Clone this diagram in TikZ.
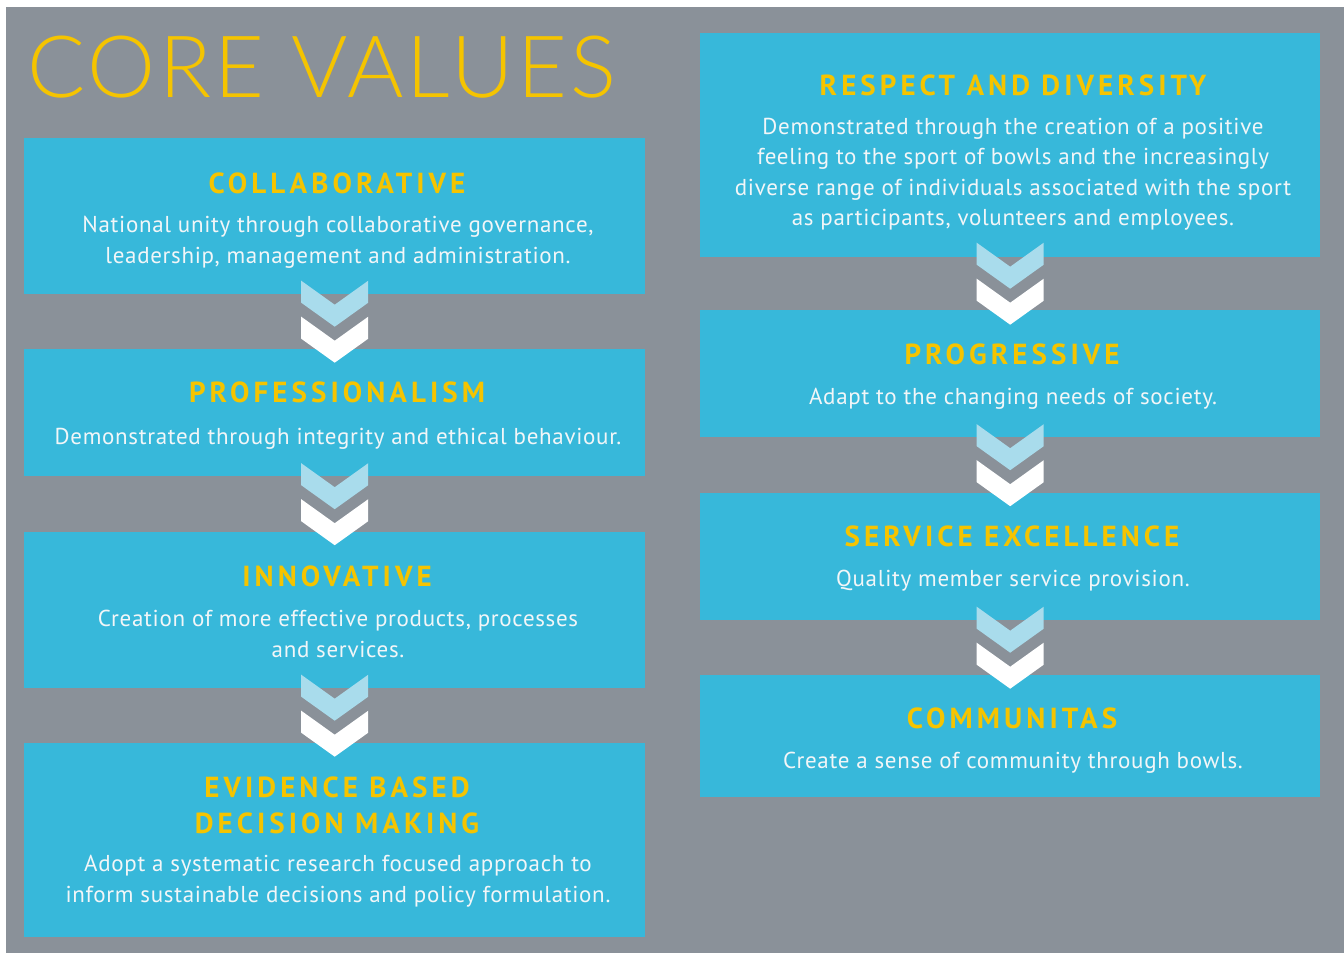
\documentclass[tikz,border=0pt]{standalone}
\usepackage{fontspec}
\setmainfont[LetterSpace=3]{PT Sans}
\newfontfamily\headfont[LetterSpace=14]{PT Sans}
\newfontfamily\titlefont[LetterSpace=4]{Lato Light}
\usetikzlibrary{calc}

\definecolor{bggray}{HTML}{8A9199}
\definecolor{boxcyan}{HTML}{37B8DA}
\definecolor{chevlight}{HTML}{A9DCEC}
\definecolor{headyellow}{HTML}{F5C400}
\definecolor{bodywhite}{HTML}{F2F6F8}

\tikzset{
  valuebox/.style={fill=boxcyan, inner sep=0pt, anchor=north west},
  headtext/.style={anchor=base, inner sep=0pt, text=headyellow,
                   font=\headfont\bfseries\fontsize{29}{34}\selectfont},
  bodytext/.style={anchor=base, inner sep=0pt, text=bodywhite,
                   font=\fontsize{23}{30}\selectfont},
  chev/.pic={
    \fill[chevlight] (-33.5,-41) -- (0,-17) -- (33.5,-41) -- (33.5,-19)
                     -- (0,5) -- (-33.5,-19) -- cycle;
    \fill[white] (-33.5,-5) -- (0,19) -- (33.5,-5) -- (33.5,17)
                 -- (0,41) -- (-33.5,17) -- cycle;
  }
}

\begin{document}
\begin{tikzpicture}[x=1pt,y=-1pt]
\useasboundingbox (0,0) rectangle (1344,953);
\fill[white] (0,0) rectangle (1344,953);
\fill[bggray] (6,7) rectangle (1344,953);

% title
\node[anchor=base west, inner sep=0pt, text=headyellow,
      font=\titlefont\fontsize{86}{90}\selectfont] (title) at (27,97) {CORE VALUES};

% left column boxes
\node[valuebox, minimum width=621pt, minimum height=156pt] (collab) at (24,138) {};
\node[valuebox, minimum width=621pt, minimum height=127pt] (prof)   at (24,349) {};
\node[valuebox, minimum width=621pt, minimum height=156pt] (innov)  at (24,532) {};
\node[valuebox, minimum width=621pt, minimum height=194pt] (evid)   at (24,743) {};

% right column boxes
\node[valuebox, minimum width=620pt, minimum height=224pt] (resp) at (700,33) {};
\node[valuebox, minimum width=620pt, minimum height=127pt] (prog) at (700,310) {};
\node[valuebox, minimum width=620pt, minimum height=127pt] (serv) at (700,493) {};
\node[valuebox, minimum width=620pt, minimum height=122pt] (comm) at (700,675) {};

% chevrons between consecutive boxes
\path ($(collab.south)!0.5!(prof.north)$) pic {chev};
\path ($(prof.south)!0.5!(innov.north)$) pic {chev};
\path ($(innov.south)!0.5!(evid.north)$) pic {chev};
\path ($(resp.south)!0.5!(prog.north)$) pic {chev};
\path ($(prog.south)!0.5!(serv.north)$) pic {chev};
\path ($(serv.south)!0.5!(comm.north)$) pic {chev};

% left column texts
\node[headtext] (collabH) at (337,193) {COLLABORATIVE};
\node[bodytext] (collabA) at (338,232) {National unity through collaborative governance,};
\node[bodytext] (collabB) at (338,263) {leadership, management and administration.};

\node[headtext] (profH) at (337,402) {PROFESSIONALISM};
\node[bodytext] (profA) at (338,444) {Demonstrated through integrity and ethical behaviour.};

\node[headtext] (innovH) at (337,586) {INNOVATIVE};
\node[bodytext] (innovA) at (338,626) {Creation of more effective products, processes};
\node[bodytext] (innovB) at (338,657) {and services.};

\node[headtext] (evidH1) at (337,797) {EVIDENCE BASED};
\node[headtext] (evidH2) at (337,833) {DECISION MAKING};
\node[bodytext] (evidA) at (338,871) {Adopt a systematic research focused approach to};
\node[bodytext] (evidB) at (338,902) {inform sustainable decisions and policy formulation.};

% right column texts
\node[headtext] (respH) at (1013,95) {RESPECT AND DIVERSITY};
\node[bodytext] (respA) at (1013,134) {Demonstrated through the creation of a positive};
\node[bodytext] (respB) at (1013,164) {feeling to the sport of bowls and the increasingly};
\node[bodytext] (respC) at (1013,195) {diverse range of individuals associated with the sport};
\node[bodytext] (respD) at (1013,225) {as participants, volunteers and employees.};

\node[headtext] (progH) at (1012,364) {PROGRESSIVE};
\node[bodytext] (progA) at (1013,404) {Adapt to the changing needs of society.};

\node[headtext] (servH) at (1012,546) {SERVICE EXCELLENCE};
\node[bodytext] (servA) at (1013,586) {Quality member service provision.};

\node[headtext] (commH) at (1012,728) {COMMUNITAS};
\node[bodytext] (commA) at (1013,768) {Create a sense of community through bowls.};
\end{tikzpicture}
\end{document}
